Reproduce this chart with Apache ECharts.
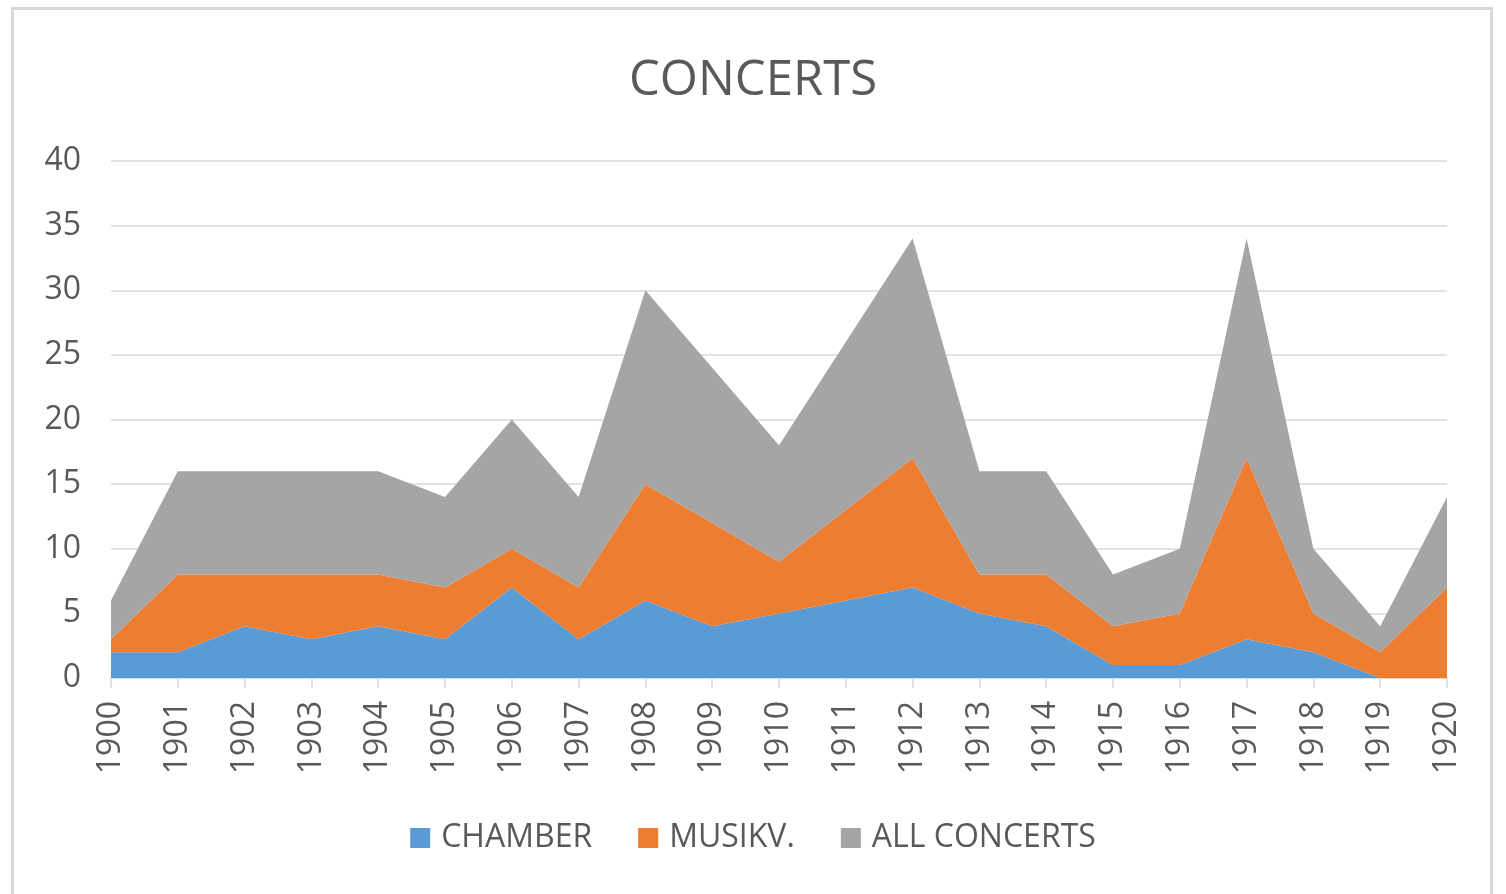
<!DOCTYPE html>
<html>
<head>
<meta charset="utf-8">
<script src="https://cdn.jsdelivr.net/npm/echarts@6/dist/echarts.min.js"></script>
<style>
  html, body { margin: 0; padding: 0; background: #fff; overflow: hidden; }
  #chart { width: 1506px; height: 894px; }
  #frame {
    position: absolute; left: 11px; top: 7px;
    width: 1476px; height: 920px;
    border: 3px solid #d9d9d9; pointer-events: none;
  }
</style>
</head>
<body>
<div id="chart"></div>
<div id="frame"></div>
<script>
  // data
  const years = ['1900','1901','1902','1903','1904','1905','1906','1907','1908','1909','1910',
                 '1911','1912','1913','1914','1915','1916','1917','1918','1919','1920'];
  const chamber = [2, 2, 4, 3, 4, 3, 7, 3, 6, 4, 5, 6, 7, 5, 4, 1, 1, 3, 2, 0, 0];
  const musikv  = [1, 6, 4, 5, 4, 4, 3, 4, 9, 8, 4, 7, 10, 3, 4, 3, 4, 14, 3, 2, 7];
  const allConcerts = [3, 8, 8, 8, 8, 7, 10, 7, 15, 12, 9, 13, 17, 8, 8, 4, 5, 17, 5, 2, 7];
  const yTicks = [0, 5, 10, 15, 20, 25, 30, 35, 40];

  const font = '"Open Sans", "Noto Sans", sans-serif';
  const txt = '#595959';

  function areaSeries(name, data, color) {
    return {
      name: name,
      type: 'line',
      stack: 'total',
      data: data,
      symbol: 'none',
      lineStyle: { width: 0 },
      areaStyle: { color: color, opacity: 1 },
      itemStyle: { color: color }
    };
  }

  let myChart = echarts.init(document.getElementById('chart'));
  let option = {
    animation: false,
    title: {
      text: 'CONCERTS',
      left: 'center',
      top: 52,
      textStyle: { fontFamily: font, fontSize: 49, fontWeight: 'normal', color: txt }
    },
    legend: {
      bottom: 35,
      left: 'center',
      icon: 'rect',
      itemWidth: 20,
      itemHeight: 20,
      itemGap: 46,
      textStyle: { fontFamily: font, fontSize: 32, color: txt, padding: [0, 0, 0, 6] },
      data: ['CHAMBER', 'MUSIKV.', 'ALL CONCERTS']
    },
    grid: { left: 111, right: 59, top: 161, bottom: 216 },
    xAxis: {
      type: 'category',
      data: years,
      boundaryGap: false,
      axisLine: { lineStyle: { color: '#d9d9d9', width: 1.5 } },
      axisTick: { show: true, length: 10, lineStyle: { color: '#d9d9d9', width: 1.5 } },
      axisLabel: {
        rotate: 90, margin: 23, interval: 0,
        fontFamily: font, fontSize: 32, color: txt
      },
      splitLine: { show: false }
    },
    yAxis: {
      type: 'value',
      min: yTicks[0],
      max: yTicks[yTicks.length - 1],
      interval: 5,
      axisLine: { show: false },
      axisTick: { show: false },
      axisLabel: { margin: 30, fontFamily: font, fontSize: 32, color: txt },
      splitLine: { lineStyle: { color: '#d9d9d9', width: 1.5 } }
    },
    series: [
      areaSeries('CHAMBER', chamber, '#5b9bd5'),
      areaSeries('MUSIKV.', musikv, '#ed7d31'),
      areaSeries('ALL CONCERTS', allConcerts, '#a5a5a5')
    ]
  };
  myChart.setOption(option);
</script>
</body>
</html>
